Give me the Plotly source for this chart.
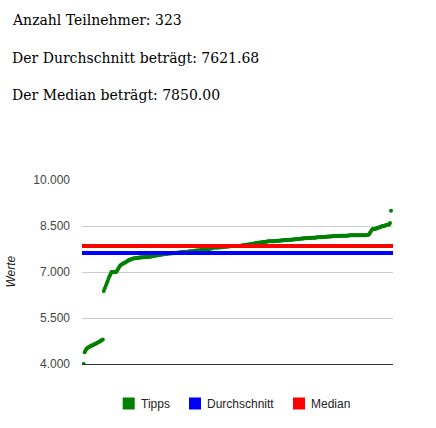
import plotly.graph_objects as go

# sorted tips of all participants
tipps = [
    4000,
    4380, 4450, 4500, 4520, 4550, 4560, 4580, 4600, 4600, 4620,
    4640, 4650, 4670, 4690, 4700, 4720, 4740, 4760, 4780, 4800,
    6380, 6460, 6540, 6620, 6700, 6780, 6860, 6930, 7000,
    7000, 7000, 7000, 7000, 7000,
    7050, 7100, 7150, 7200, 7230,
    7250, 7270, 7290, 7300, 7320, 7340, 7360,
    7380, 7400, 7400, 7420, 7430, 7440, 7450,
    7450, 7450, 7460, 7460, 7470, 7470, 7475, 7480, 7480, 7480, 7480,
    7490, 7490, 7500, 7500, 7500, 7500, 7510, 7520, 7520, 7530, 7540, 7540, 7550, 7550,
    7555, 7560, 7560, 7570, 7575, 7580, 7580, 7590, 7590, 7600, 7600,
    7600, 7600, 7610, 7610, 7615, 7620, 7620, 7625, 7630, 7630,
    7635, 7640, 7640, 7645, 7650, 7650, 7650, 7655, 7660, 7660,
    7665, 7670, 7675, 7680, 7680, 7685, 7690, 7690, 7700, 7700,
    7700, 7700, 7710, 7715, 7720, 7725, 7730, 7735, 7740, 7745,
    7750, 7750, 7760, 7765, 7770, 7780, 7790,
    7800, 7800, 7800, 7800, 7800, 7800,
    7805, 7810, 7810, 7815, 7820, 7820, 7825, 7830, 7830, 7835, 7840, 7840, 7845,
    7850, 7850, 7850, 7850, 7850, 7850,
    7850, 7850, 7855, 7860, 7865, 7870, 7875, 7880, 7885, 7890, 7900,
    7900, 7900, 7910, 7915, 7920, 7925, 7930, 7940, 7945, 7950,
    7950, 7955, 7960, 7965, 7970, 7975, 7980, 7985, 7990, 7990,
    8000, 8000, 8000, 8000, 8000, 8000, 8000, 8000,
    8010, 8010, 8015, 8020, 8020, 8025, 8030, 8030,
    8035, 8040, 8040, 8040, 8045, 8045, 8050, 8050,
    8050, 8055, 8060, 8060, 8065, 8070, 8070, 8075, 8080, 8080,
    8085, 8090, 8090, 8095, 8100, 8100, 8100, 8100, 8105, 8110,
    8110, 8115, 8115, 8120, 8120,
    8120, 8125, 8125, 8130, 8130, 8130, 8135, 8140, 8140, 8145,
    8150, 8150, 8150, 8150, 8155, 8160, 8160, 8160, 8165, 8165,
    8170, 8170, 8170, 8175, 8175, 8175, 8180, 8180, 8180, 8180,
    8185, 8185, 8185, 8185, 8185,
    8190, 8190, 8200, 8200, 8200, 8200, 8200, 8200, 8200, 8200,
    8200, 8200, 8200, 8200, 8200, 8200, 8200, 8200, 8200, 8200,
    8205, 8210,
    8230, 8280, 8330, 8380, 8400, 8400,
    8400, 8420, 8420, 8440, 8450, 8450, 8470, 8480,
    8500, 8500, 8500, 8520, 8530, 8540, 8550, 8550,
    8600, 9000,
]
anzahl = 323
durchschnitt = 7621.68
median = 7850.00

serien = ['Tipps', 'Durchschnitt', 'Median']
farben = ['#008000', '#0000ff', '#ff0000']
y_ticks = [4000, 5500, 7000, 8500, 10000]

W, H = 436, 428
L, R, T, B = 82, 43, 180, 64
PW, PH = W - L - R, H - T - B


def px_x(px):
    return (px - L) / PW


def px_y(py):
    return (H - B - py) / PH


fig = go.Figure()
fig.add_trace(go.Scatter(x=list(range(len(tipps))), y=tipps, mode='markers', name=serien[0],
                         marker=dict(color=farben[0], size=4), showlegend=False,
                         hoverinfo='y'))

# mean and median as horizontal lines across the plot
for wert, farbe in [(durchschnitt, farben[1]), (median, farben[2])]:
    fig.add_shape(type='line', xref='x domain', yref='y', x0=0, x1=1, y0=wert, y1=wert,
                  line=dict(color=farbe, width=4), layer='above')

texte = [
    f'Anzahl Teilnehmer: {anzahl}',
    f'Der Durchschnitt beträgt: {durchschnitt:.2f}',
    f'Der Median beträgt: {median:.2f}',
]
annotations = []
for txt, py in zip(texte, [20, 57.5, 95]):
    annotations.append(dict(text=txt, xref='paper', yref='paper', x=px_x(10), y=px_y(py),
                            xanchor='left', yanchor='middle', showarrow=False,
                            font=dict(family='DejaVu Serif', size=14, color='#000000')))
annotations.append(dict(text='<i>Werte</i>', xref='paper', yref='paper', x=px_x(10.5), y=px_y(272),
                        xanchor='center', yanchor='middle', textangle=-90, showarrow=False,
                        font=dict(family='Liberation Sans', size=12, color='#222222')))

# legend drawn by hand: square swatch + label
legend_x = [122.7, 189, 293]
for name, farbe, lx in zip(serien, farben, legend_x):
    fig.add_shape(type='rect', xref='paper', yref='paper',
                  x0=px_x(lx), x1=px_x(lx + 12), y0=px_y(409.5), y1=px_y(397.5),
                  fillcolor=farbe, line=dict(width=0))
    annotations.append(dict(text=name, xref='paper', yref='paper', x=px_x(lx + 16), y=px_y(403.5),
                            xanchor='left', yanchor='middle', showarrow=False,
                            font=dict(family='Liberation Sans', size=12, color='#222222')))

fig.update_layout(
    width=W, height=H,
    margin=dict(l=L, r=R, t=T, b=B),
    paper_bgcolor='white', plot_bgcolor='white',
    font=dict(family='Liberation Sans', size=12, color='#222222'),
    separators=',.',
    showlegend=False,
    xaxis=dict(range=[-1.8, 324.1], showgrid=False, showticklabels=False,
               showline=True, linecolor='#333333', linewidth=1, zeroline=False, fixedrange=True),
    yaxis=dict(range=[4000, 10000], tickvals=y_ticks, tickformat=',', gridcolor='#cccccc',
               zeroline=False, showline=False, ticklabelstandoff=11,
               tickfont=dict(size=12, color='#444444')),
    annotations=annotations,
)

# drop the default 8px page margin so the figure fills the window from its corner
fig.write_html('out.html', config={'displayModeBar': False},
               post_script="document.body.style.margin = '0';")
